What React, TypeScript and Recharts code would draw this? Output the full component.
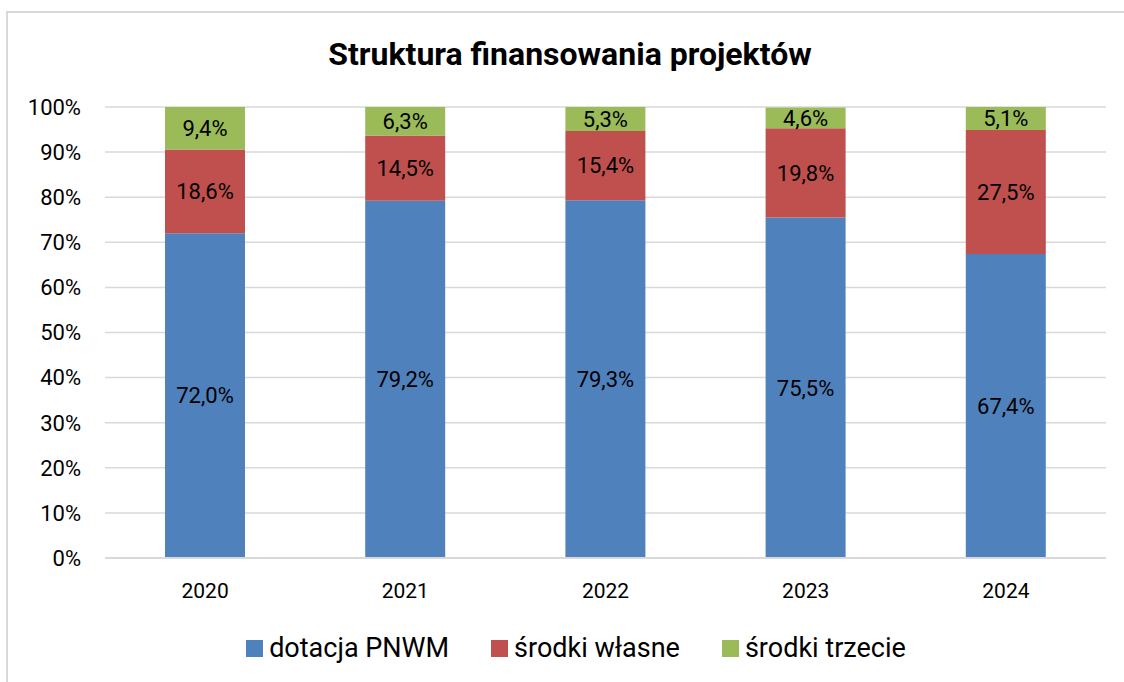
import React from 'react';
import { BarChart, Bar, XAxis, YAxis, CartesianGrid, LabelList } from 'recharts';

const years = ['2020', '2021', '2022', '2023', '2024'];
const dotacja = [72.0, 79.2, 79.3, 75.5, 67.4];
const wlasne = [18.6, 14.5, 15.4, 19.8, 27.5];
const trzecie = [9.4, 6.3, 5.3, 4.6, 5.1];
const yTicks = [0, 10, 20, 30, 40, 50, 60, 70, 80, 90, 100];

const series = [
  { key: 'dotacja', name: 'dotacja PNWM', color: '#4f81bd' },
  { key: 'wlasne', name: 'środki własne', color: '#c0504d' },
  { key: 'trzecie', name: 'środki trzecie', color: '#9bbb59' },
];

const data = years.map((year, i) => ({
  year,
  dotacja: dotacja[i],
  wlasne: wlasne[i],
  trzecie: trzecie[i],
}));

const FONT = 'Roboto, sans-serif';
const fmt = (v: any) => `${Number(v).toFixed(1).replace('.', ',')}%`;

const App: React.FC = () => {
  return (
    <div style={{ position: 'absolute', left: 0, top: 0, width: 1124, height: 682, overflow: 'hidden', fontFamily: FONT, background: '#fff' }}>
      <div
        style={{
          position: 'absolute',
          left: 6,
          top: 11,
          width: 1130,
          height: 690,
          borderLeft: '2px solid #d9d9d9',
          borderTop: '2px solid #d9d9d9',
        }}
      />
      <div
        style={{
          position: 'absolute',
          left: 0,
          top: 35,
          width: 1140,
          textAlign: 'center',
          fontSize: 32,
          fontWeight: 'bold',
          color: '#000',
        }}
      >
        Struktura finansowania projektów
      </div>
      <div style={{ position: 'absolute', left: 0, top: 0 }}>
        <BarChart
          width={1124}
          height={682}
          data={data}
          margin={{ top: 107, right: 18, bottom: 94, left: 0 }}
          barCategoryGap="30%"
        >
          <CartesianGrid vertical={false} stroke="#d9d9d9" strokeWidth={1.5} />
          <XAxis
            dataKey="year"
            height={30}
            axisLine={{ stroke: '#d9d9d9', strokeWidth: 2 }}
            tickLine={false}
            tickSize={0}
            tickMargin={25}
            tick={{ fontSize: 21, fill: '#000', fontFamily: FONT }}
          />
          <YAxis
            width={105}
            domain={[0, 100]}
            ticks={yTicks}
            axisLine={false}
            tickLine={false}
            tickSize={0}
            tickMargin={24}
            tickFormatter={(v: number) => `${v}%`}
            tick={{ fontSize: 22, fill: '#000', fontFamily: FONT }}
          />
          {series.map((s) => (
            <Bar key={s.key} dataKey={s.key} name={s.name} stackId="a" fill={s.color} barSize={80} isAnimationActive={false}>
              <LabelList dataKey={s.key} position="center" formatter={fmt} fill="#000" fontSize={22} fontFamily={FONT} />
            </Bar>
          ))}
        </BarChart>
      </div>
      <div
        style={{
          position: 'absolute',
          left: 0,
          top: 631,
          width: 1152,
          display: 'flex',
          justifyContent: 'center',
          gap: 42,
          fontSize: 27,
          lineHeight: '34px',
          color: '#000',
        }}
      >
        {series.map((s) => (
          <div key={s.key} style={{ display: 'flex', alignItems: 'center' }}>
            <span style={{ display: 'inline-block', width: 17, height: 17, background: s.color, marginRight: 6 }} />
            <span>{s.name}</span>
          </div>
        ))}
      </div>
    </div>
  );
};

export default App;
